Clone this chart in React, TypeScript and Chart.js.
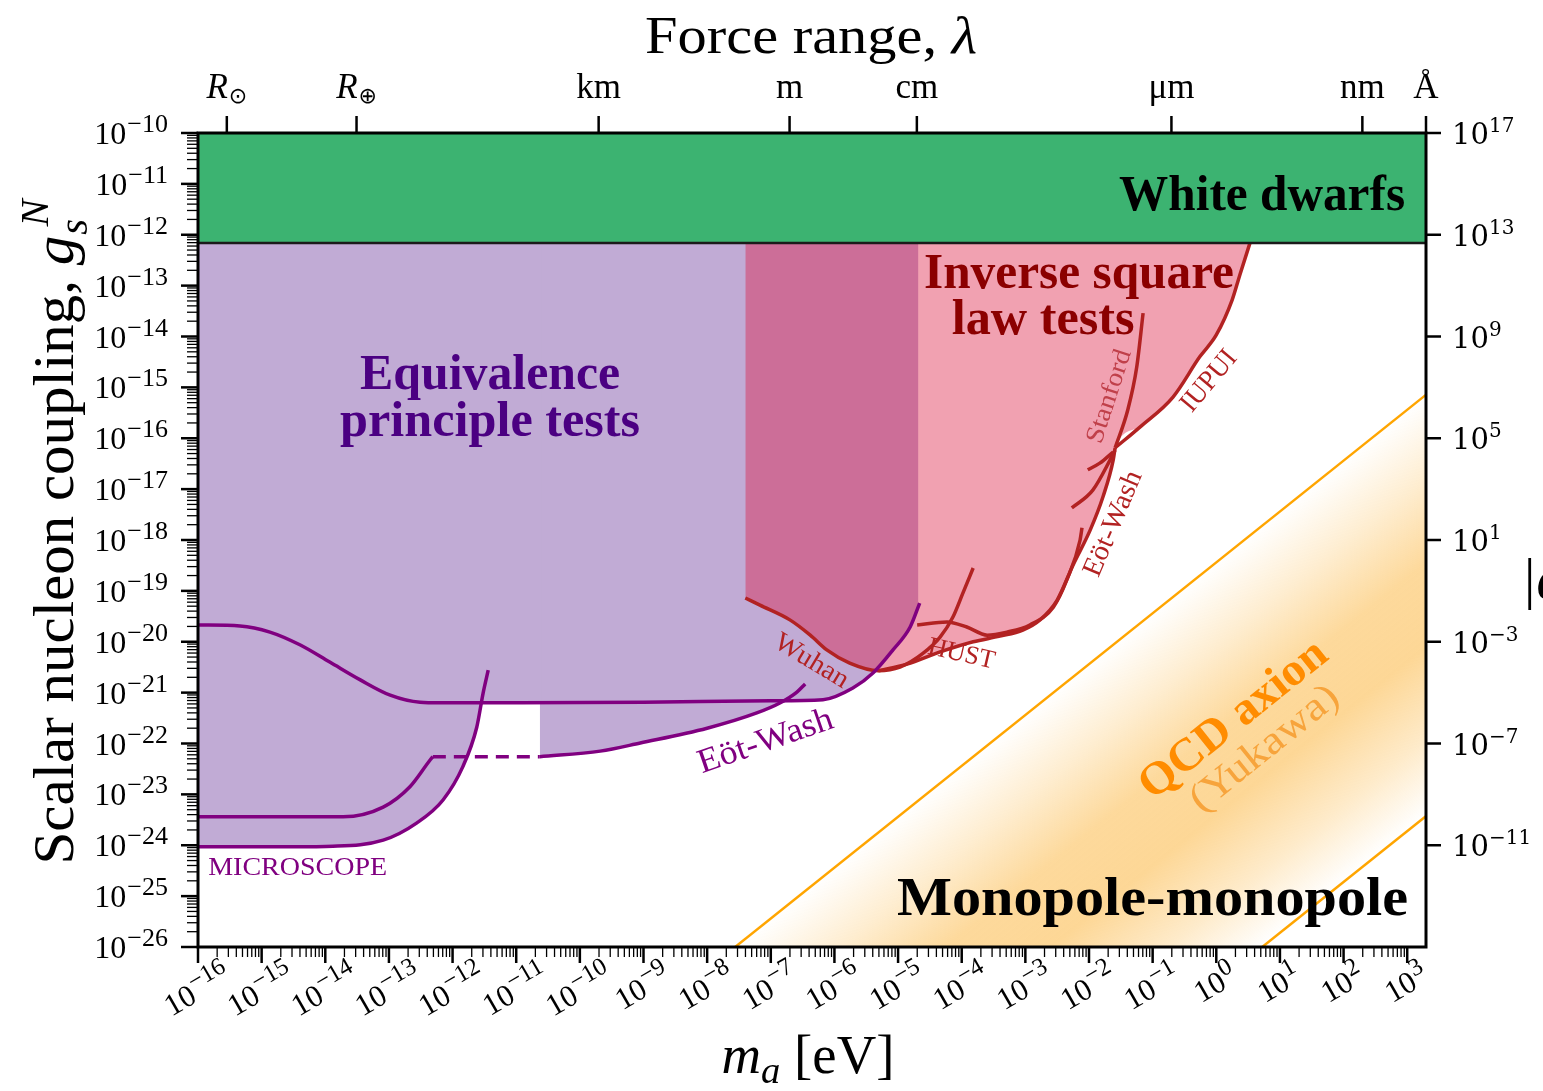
import React, { useEffect, useRef } from "react";
import { Chart, registerables } from "chart.js";

Chart.register(...registerables);

// ħc in eV·m, used to convert a force range λ into a mediator mass
const HBARC_EV_M = 1.97327e-7;

const M_MIN = 1e-16;
const M_MAX = HBARC_EV_M / 1e-10; // mass whose range is one ångström
const G_MIN = 1e-26;
const G_MAX = 1e-10;
const ALPHA_MIN = 1e-15;
const ALPHA_MAX = 1e17;

// All bounds are [log10(m_a / eV), log10(g_s^N)]
const EP_UPPER: number[][] = [
  [-16, -19.67], [-15.34, -19.69], [-14.87, -19.81], [-14.4, -20.06], [-13.93, -20.4],
  [-13.45, -20.75], [-12.98, -21.05], [-12.51, -21.19], [-12.2, -21.2], [-11, -21.2],
  [-9, -21.19], [-7, -21.16], [-6.18, -21.14], [-5.71, -20.91], [-5.39, -20.61],
  [-5.08, -20.16], [-4.81, -19.71], [-4.66, -19.24],
];
const MICROSCOPE_LOWER: number[][] = [
  [-16, -24.03], [-14.5, -24.03], [-13.88, -24.02], [-13.09, -23.9], [-12.56, -23.56],
  [-12.15, -23.11], [-11.84, -22.46], [-11.62, -21.68], [-11.52, -21.01], [-11.44, -20.56],
];
const MICROSCOPE_MID: number[][] = [
  [-16, -23.44], [-13.72, -23.44], [-13.09, -23.25], [-12.67, -22.85], [-12.35, -22.32], [-12.31, -22.26],
];
const EP_DASHED: number[][] = [[-12.31, -22.26], [-10.63, -22.26]];
const EOT_WASH_EP: number[][] = [
  [-10.63, -22.26], [-9.68, -22.15], [-9.05, -21.99], [-8.0, -21.7], [-7.22, -21.4],
  [-6.85, -21.2], [-6.59, -20.99], [-6.46, -20.83],
];
const EP_REGION_LOW_MASS: number[][] = [
  [-16, -24.03], [-14.5, -24.03], [-13.88, -24.02], [-13.09, -23.9], [-12.56, -23.56],
  [-12.15, -23.11], [-11.84, -22.46], [-11.62, -21.68], [-11.56, -21.2], [-10.6, -21.2],
];
const EP_REGION_HIGH_MASS: number[][] = [
  [-10.63, -22.26], [-9.68, -22.15], [-9.05, -21.99], [-8.0, -21.7], [-7.22, -21.4],
  [-6.85, -21.2], [-6.18, -21.14], [-5.71, -20.91], [-5.39, -20.61], [-5.08, -20.16],
  [-4.81, -19.71], [-4.68, -19.3],
];

const WUHAN: number[][] = [
  [-7.4, -19.14], [-7.17, -19.28], [-6.7, -19.57], [-6.38, -19.87], [-6.12, -20.16],
  [-5.76, -20.42], [-5.31, -20.57], [-4.97, -20.5], [-4.61, -20.23], [-4.34, -19.91],
  [-4.14, -19.52], [-3.98, -19.04], [-3.82, -18.55],
];
const EOT_WASH_ISL: number[][] = [
  [-5.31, -20.57], [-4.86, -20.44], [-4.34, -20.2], [-3.82, -20.0], [-3.4, -19.89],
  [-3.04, -19.77], [-2.77, -19.57], [-2.5, -19.18], [-2.25, -18.49], [-1.98, -17.8],
  [-1.78, -17.15], [-1.62, -16.43], [-1.59, -16.19],
];
const EOT_WASH_ISL_B: number[][] = [[-2.27, -17.37], [-1.94, -17.02], [-1.67, -16.43], [-1.59, -16.23]];
const EOT_WASH_ISL_C: number[][] = [[-2.02, -16.62], [-1.83, -16.49], [-1.62, -16.27]];
const HUST: number[][] = [
  [-4.7, -19.67], [-4.23, -19.61], [-3.92, -19.71], [-3.6, -19.87], [-3.29, -19.81],
  [-2.93, -19.67], [-2.56, -19.32], [-2.35, -18.79], [-2.14, -18.0], [-2.11, -17.76],
];
const STANFORD: number[][] = [[-1.59, -16.19], [-1.39, -15.44], [-1.25, -14.6], [-1.15, -13.54]];
const IUPUI: number[][] = [
  [-1.59, -16.19], [-1.2, -15.78], [-0.68, -15.19], [-0.26, -14.4], [0.0, -13.97],
  [0.25, -13.28], [0.37, -12.79], [0.53, -12.16], [0.72, -11.42],
];
const ISL_REGION: number[][] = [
  [-7.4, -19.14], [-7.17, -19.28], [-6.7, -19.57], [-6.38, -19.87], [-6.12, -20.16],
  [-5.76, -20.42], [-5.31, -20.57], [-4.86, -20.44], [-4.34, -20.2], [-3.82, -20.0],
  [-3.4, -19.89], [-3.04, -19.77], [-2.77, -19.57], [-2.5, -19.18], [-2.25, -18.49],
  [-1.98, -17.8], [-1.78, -17.15], [-1.62, -16.43], [-1.59, -16.19], [-1.2, -15.78],
  [-0.68, -15.19], [-0.26, -14.4], [0.0, -13.97], [0.25, -13.28], [0.37, -12.79],
  [0.53, -12.16], [0.72, -11.42],
];

const WHITE_DWARF_LIMIT = 6.9e-13;

// QCD axion (Yukawa) band edges, [m_a in eV, g]
const QCD_UPPER: number[][] = [[1e-9, 3.63e-28], [1e4, 3.63e-15]];
const QCD_LOWER: number[][] = [[1e-9, 1.9e-36], [1e4, 1.9e-23]];

const X_TICK_EXPONENTS = [-16, -15, -14, -13, -12, -11, -10, -9, -8, -7, -6, -5, -4, -3, -2, -1, 0, 1, 2, 3];
const Y_TICK_EXPONENTS = [-26, -25, -24, -23, -22, -21, -20, -19, -18, -17, -16, -15, -14, -13, -12, -11, -10];
const ALPHA_TICK_EXPONENTS = [17, 13, 9, 5, 1, -3, -7, -11];
const LENGTH_TICKS = [
  { lambda: 6.957e8, label: "R", sub: "⊙" },
  { lambda: 6.371e6, label: "R", sub: "⊕" },
  { lambda: 1e3, label: "km" },
  { lambda: 1, label: "m" },
  { lambda: 1e-2, label: "cm" },
  { lambda: 1e-6, label: "μm" },
  { lambda: 1e-9, label: "nm" },
  { lambda: 1e-10, label: "Å" },
];

const SERIF = '"Liberation Serif", "DejaVu Serif", serif';
const MATH_SERIF = '"DejaVu Serif", serif';
const PURPLE = "#800080";
const FIREBRICK = "#b22222";
const PEACH = "253,215,150";

type Part = {
  t: string;
  size: number;
  italic?: boolean;
  bold?: boolean;
  dy?: number;
  gap?: number;
  stack?: boolean;
  family?: string;
};

type RunOpts = {
  align?: "left" | "center" | "right";
  rot?: number;
  color?: string;
  width?: number;
  mid?: boolean;
};

const ANNOTATIONS: { text: string; at: number[]; size: number; bold?: boolean; color: string; width: number; align?: "left" | "center" | "right"; rot?: number; mid?: boolean }[] = [
  { text: "Equivalence", at: [-11.41, -15.03], size: 50, bold: true, color: "#4b0082", width: 260 },
  { text: "principle tests", at: [-11.41, -15.96], size: 50, bold: true, color: "#4b0082", width: 300 },
  { text: "Inverse square", at: [-2.157, -13.05], size: 50, bold: true, color: "#8b0000", width: 310 },
  { text: "law tests", at: [-2.72, -13.95], size: 50, bold: true, color: "#8b0000", width: 183 },
  { text: "White dwarfs", at: [2.966, -11.51], size: 50, bold: true, color: "#000", width: 286, align: "right" },
  { text: "Monopole-monopole", at: [3.013, -25.37], size: 55, bold: true, color: "#000", width: 511, align: "right" },
  { text: "MICROSCOPE", at: [-15.84, -24.58], size: 25, color: PURPLE, width: 179, align: "left" },
  { text: "Eöt-Wash", at: [-7.09, -21.93], size: 34, color: PURPLE, width: 141, rot: -19, mid: true },
  { text: "Wuhan", at: [-6.35, -20.36], size: 27, color: FIREBRICK, width: 82, rot: 31, mid: true },
  { text: "HUST", at: [-4.0, -20.22], size: 26, color: FIREBRICK, width: 68, rot: 13, mid: true },
  { text: "Eöt-Wash", at: [-1.64, -17.67], size: 28, color: FIREBRICK, width: 112, rot: -67, mid: true },
  { text: "Stanford", at: [-1.7, -15.17], size: 26, color: "#c0404a", width: 97, rot: -72, mid: true },
  { text: "IUPUI", at: [-0.13, -14.86], size: 28, color: FIREBRICK, width: 72, rot: -50, mid: true },
  { text: "QCD axion", at: [0.25, -21.5], size: 46, bold: true, color: "#ff8c00", width: 228, rot: -38.7, mid: true },
  { text: "(Yukawa)", at: [0.74, -22.07], size: 40, color: "#f7a43c", width: 180, rot: -38.7, mid: true },
];

const toPts = (arr: number[][]) => arr.map(([lm, lg]) => ({ x: Math.pow(10, lm), y: Math.pow(10, lg) }));
const toLinPts = (arr: number[][]) => arr.map(([m, g]) => ({ x: m, y: g }));

function fontStr(p: Part) {
  return `${p.italic ? "italic " : ""}${p.bold ? "bold " : ""}${p.size}px ${p.family || SERIF}`;
}

function layoutRuns(ctx: CanvasRenderingContext2D, parts: Part[]) {
  let cx = 0;
  let prevStart = 0;
  const placed = parts.map((p) => {
    ctx.font = fontStr(p);
    const w = ctx.measureText(p.t).width;
    const start = p.stack ? prevStart + (p.gap || 0) : cx + (p.gap || 0);
    if (!p.stack) prevStart = start;
    cx = Math.max(cx, start + w);
    return { p, start };
  });
  return { placed, total: cx };
}

function drawRuns(ctx: CanvasRenderingContext2D, parts: Part[], x: number, y: number, o: RunOpts = {}) {
  const { placed, total } = layoutRuns(ctx, parts);
  const maxSize = Math.max(...parts.map((p) => p.size));
  ctx.save();
  ctx.translate(x, y);
  if (o.rot) ctx.rotate((o.rot * Math.PI) / 180);
  if (o.mid) ctx.translate(0, 0.32 * maxSize);
  const sx = o.width ? o.width / total : 1;
  ctx.scale(sx, 1);
  const off = o.align === "left" ? 0 : o.align === "right" ? -total : -total / 2;
  ctx.fillStyle = o.color || "#000";
  ctx.textAlign = "left";
  ctx.textBaseline = "alphabetic";
  placed.forEach(({ p, start }) => {
    ctx.font = fontStr(p);
    ctx.fillText(p.t, off + start, p.dy || 0);
  });
  ctx.restore();
}

const expText = (e: number) => (e < 0 ? "−" + String(-e) : String(e));

function tick(ctx: CanvasRenderingContext2D, x1: number, y1: number, x2: number, y2: number, w: number) {
  ctx.lineWidth = w;
  ctx.beginPath();
  ctx.moveTo(x1, y1);
  ctx.lineTo(x2, y2);
  ctx.stroke();
}

const decorations = {
  id: "decorations",
  afterDatasetsDraw(chart: any) {
    const { ctx, scales } = chart;
    ANNOTATIONS.forEach((a) => {
      const px = scales.x.getPixelForValue(Math.pow(10, a.at[0]));
      const py = scales.y.getPixelForValue(Math.pow(10, a.at[1]));
      drawRuns(ctx, [{ t: a.text, size: a.size, bold: a.bold }], px, py, {
        align: a.align || "center",
        rot: a.rot,
        color: a.color,
        width: a.width,
        mid: a.mid,
      });
    });
  },
  afterDraw(chart: any) {
    const { ctx, chartArea: a, scales } = chart;
    const xs = scales.x;
    const ys = scales.y;
    const y2 = scales.y2;
    ctx.save();
    ctx.strokeStyle = "#000";
    ctx.lineCap = "butt";

    // left axis: coupling
    Y_TICK_EXPONENTS.forEach((e) => {
      const py = ys.getPixelForValue(Math.pow(10, e));
      tick(ctx, a.left - 17, py, a.left, py, 2.5);
      if (e < -10) {
        for (let k = 2; k <= 9; k++) {
          const pm = ys.getPixelForValue(k * Math.pow(10, e));
          tick(ctx, a.left - 11, pm, a.left, pm, 1.3);
        }
      }
      drawRuns(ctx, [{ t: "10", size: 32 }, { t: expText(e), size: 26, dy: -12, gap: 1 }], a.left - 30, py + 11, {
        align: "right",
      });
    });

    // bottom axis: mass
    const th = (30 * Math.PI) / 180;
    X_TICK_EXPONENTS.forEach((e) => {
      const px = xs.getPixelForValue(Math.pow(10, e));
      tick(ctx, px, a.bottom, px, a.bottom + 16, 2.5);
      for (let k = 2; k <= 9; k++) {
        const v = k * Math.pow(10, e);
        if (v > M_MAX) break;
        const pm = xs.getPixelForValue(v);
        tick(ctx, pm, a.bottom, pm, a.bottom + 10, 1.3);
      }
      const parts: Part[] = [{ t: "10", size: 31 }, { t: expText(e), size: 25, dy: -12, gap: 1 }];
      const w = layoutRuns(ctx, parts).total;
      const h = 12 + 0.68 * 25;
      const H = w * Math.sin(th) + h * Math.cos(th);
      ctx.save();
      ctx.translate(px - 3, a.bottom + 9 + H / 2);
      ctx.rotate(-th);
      drawRuns(ctx, parts, 0, h / 2, { align: "center" });
      ctx.restore();
    });

    // top axis: force range
    LENGTH_TICKS.forEach((t) => {
      const px = xs.getPixelForValue(HBARC_EV_M / t.lambda);
      tick(ctx, px, a.top - 17, px, a.top, 2.5);
      const parts: Part[] = t.sub
        ? [{ t: t.label, size: 35, italic: true }, { t: t.sub, size: 22, dy: 5, gap: 1, family: '"DejaVu Sans", sans-serif' }]
        : [{ t: t.label, size: 35 }];
      drawRuns(ctx, parts, px, a.top - 35, { align: "center" });
    });

    // right axis
    ALPHA_TICK_EXPONENTS.forEach((e) => {
      const py = y2.getPixelForValue(Math.pow(10, e));
      tick(ctx, a.right, py, a.right + 15, py, 2.5);
      drawRuns(
        ctx,
        [
          { t: "10", size: 29, family: MATH_SERIF },
          { t: expText(e), size: 20, dy: -12, family: MATH_SERIF },
        ],
        a.right + 26,
        py + 11,
        { align: "left" }
      );
    });

    // frame
    ctx.lineWidth = 3;
    ctx.strokeRect(a.left, a.top, a.right - a.left, a.bottom - a.top);

    // axis titles
    drawRuns(ctx, [{ t: "Force range, ", size: 53 }, { t: "λ", size: 53, italic: true }], 811, 53, {
      align: "center",
      width: 332,
    });
    drawRuns(
      ctx,
      [
        { t: "m", size: 54, italic: true },
        { t: "a", size: 38, italic: true, dy: 10 },
        { t: " [eV]", size: 54 },
      ],
      808,
      1073,
      { align: "center", width: 173 }
    );
    drawRuns(
      ctx,
      [
        { t: "Scalar nucleon coupling, ", size: 58 },
        { t: "g", size: 58, italic: true },
        { t: "s", size: 40, italic: true, dy: 14, gap: 1 },
        { t: "N", size: 40, italic: true, dy: -25, stack: true, gap: 8 },
      ],
      73,
      532,
      { align: "center", rot: -90, width: 665 }
    );
    drawRuns(ctx, [{ t: "|α|", size: 56, italic: true }], 1521, 598, { align: "left" });
    ctx.restore();
  },
};

function qcdGradient(c: any) {
  const chart = c.chart;
  const area = chart.chartArea;
  if (!area || !chart.scales.x || !chart.scales.y) return `rgba(${PEACH},0.6)`;
  const xs = chart.scales.x;
  const ys = chart.scales.y;
  const p1 = { x: xs.getPixelForValue(QCD_UPPER[0][0]), y: ys.getPixelForValue(QCD_UPPER[0][1]) };
  const p2 = { x: xs.getPixelForValue(QCD_UPPER[1][0]), y: ys.getPixelForValue(QCD_UPPER[1][1]) };
  const q = { x: xs.getPixelForValue(QCD_LOWER[1][0]), y: ys.getPixelForValue(QCD_LOWER[1][1]) };
  const len = Math.hypot(p2.x - p1.x, p2.y - p1.y);
  const dx = (p2.x - p1.x) / len;
  const dy = (p2.y - p1.y) / len;
  const nx = -dy;
  const ny = dx;
  const dist = (q.x - p1.x) * nx + (q.y - p1.y) * ny;
  const g = chart.ctx.createLinearGradient(p1.x, p1.y, p1.x + nx * dist, p1.y + ny * dist);
  g.addColorStop(0, `rgba(${PEACH},0)`);
  g.addColorStop(0.2, `rgba(${PEACH},0.45)`);
  g.addColorStop(0.4, `rgba(${PEACH},0.95)`);
  g.addColorStop(0.6, `rgba(${PEACH},1)`);
  g.addColorStop(0.82, `rgba(${PEACH},0.5)`);
  g.addColorStop(1, `rgba(${PEACH},0)`);
  return g;
}

export default function App() {
  const ref = useRef<HTMLCanvasElement>(null);

  useEffect(() => {
    const line = (data: any[], color: string, order: number, extra: any = {}) => ({
      data,
      borderColor: color,
      borderWidth: 3.5,
      pointRadius: 0,
      fill: false,
      cubicInterpolationMode: "monotone",
      order,
      ...extra,
    });

    const datasets: any[] = [
      // white-dwarf bound drawn above everything else
      line(
        [
          { x: M_MIN, y: WHITE_DWARF_LIMIT },
          { x: M_MAX, y: WHITE_DWARF_LIMIT },
        ],
        "#1a1a1a",
        0,
        { fill: "end", backgroundColor: "#3cb371", borderWidth: 2.5, cubicInterpolationMode: "default", tension: 0 }
      ),
      // equivalence-principle curves
      line(toPts(EP_UPPER), PURPLE, 2),
      line(toPts(MICROSCOPE_LOWER), PURPLE, 2),
      line(toPts(MICROSCOPE_MID), PURPLE, 2),
      line(toPts(EP_DASHED), PURPLE, 2, { borderDash: [13, 8] }),
      line(toPts(EOT_WASH_EP), PURPLE, 2),
      // inverse-square-law curves
      line(toPts(WUHAN), FIREBRICK, 2),
      line(toPts(EOT_WASH_ISL), FIREBRICK, 2),
      line(toPts(EOT_WASH_ISL_B), FIREBRICK, 2),
      line(toPts(EOT_WASH_ISL_C), FIREBRICK, 2),
      line(toPts(HUST), FIREBRICK, 2),
      line(toPts(STANFORD), FIREBRICK, 2),
      line(toPts(IUPUI), FIREBRICK, 2),
      // excluded regions
      line(toPts(ISL_REGION), "rgba(0,0,0,0)", 5, {
        borderWidth: 0,
        fill: "end",
        backgroundColor: "rgba(220,20,60,0.4)",
      }),
      line(toPts(EP_REGION_LOW_MASS), "rgba(0,0,0,0)", 6, {
        borderWidth: 0,
        fill: "end",
        backgroundColor: "#c1abd5",
      }),
      line(toPts(EP_REGION_HIGH_MASS), "rgba(0,0,0,0)", 6, {
        borderWidth: 0,
        fill: "end",
        backgroundColor: "#c1abd5",
      }),
      // QCD axion band
      line(toLinPts(QCD_UPPER), "#ffa500", 8, {
        borderWidth: 2.5,
        fill: "+1",
        backgroundColor: qcdGradient,
        cubicInterpolationMode: "default",
        tension: 0,
      }),
      line(toLinPts(QCD_LOWER), "#ffa500", 8, { borderWidth: 2.5, cubicInterpolationMode: "default", tension: 0 }),
    ];

    const chart = new Chart(ref.current as HTMLCanvasElement, {
      type: "line",
      data: { datasets },
      options: {
        animation: false,
        responsive: false,
        maintainAspectRatio: false,
        events: [],
        layout: { padding: { left: 198, top: 133, right: 117, bottom: 144 } },
        plugins: { legend: { display: false }, tooltip: { enabled: false } },
        scales: {
          x: { type: "logarithmic", min: M_MIN, max: M_MAX, display: false },
          y: { type: "logarithmic", min: G_MIN, max: G_MAX, display: false },
          y2: { type: "logarithmic", position: "right", min: ALPHA_MIN, max: ALPHA_MAX, display: false },
        },
      } as any,
      plugins: [decorations as any],
    });
    return () => chart.destroy();
  }, []);

  return (
    <div style={{ position: "fixed", left: 0, top: 0, width: 1543, height: 1091, background: "#fff" }}>
      <canvas ref={ref} width={1543} height={1091} style={{ display: "block", width: 1543, height: 1091 }} />
    </div>
  );
}
